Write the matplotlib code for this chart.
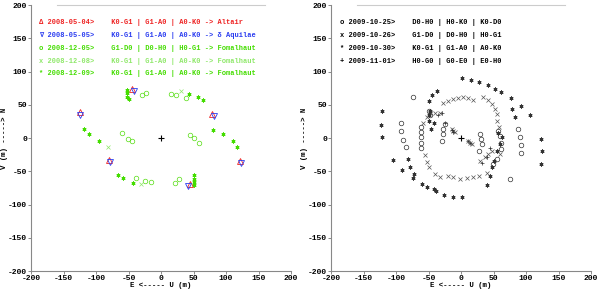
import numpy as np
import matplotlib
matplotlib.use("Agg")
from matplotlib import pyplot as plt

# ---- left panel data: (u, v) in metres ----
alt_u = [-45, -124, 79, 122, -80, 44]
alt_v = [74, 39, 36, -35, -33, -69]
aql_u = [-42, -124, 81, 123, -79, 42]
aql_v = [71, 35, 33, -38, -36, -72]

fom05_u = [-29, -23, 15, 23, 38, -60, -51, -45, 44, 50, 59, -38, -24, -16, 21, 27]
fom05_v = [64, 68, 66, 65, 60, 8, -1, -4, 5, 0, -7, -60, -64, -66, -67, -62]
fom08_u = [30, -81, -31]
fom08_v = [70, -13, -69]
fom09_u = [-52, -53, -52, -50, 43, 57, 65, -118, -111, -96, 80, 95, 110, 117,
           -66, -59, -43, 50, 50, 50, 51]
fom09_v = [72, 67, 62, 58, 66, 61, 57, 14, 6, -5, 12, 6, -5, -13,
           -56, -60, -67, -56, -61, -66, -71]

# ---- right panel data ----
d25_u = [-74, -92, -92, -90, -85, 87, 91, 93, 93, 75,
         -62, -62, -62, -62, -62, -49, -48, -25, -28, -28, -29,
         29, 30, 32, 28, 57, 60, 61, 62, 55, 49]
d25_v = [61, 22, 10, -3, -14, 13, 2, -10, -22, -61,
         17, 9, 1, -7, -15, 40, 34, 21, 13, 6, -4,
         6, -2, -9, -19, 11, 3, -7, -17, -32, -39]
d26_u = [-28, -20, -12, -5, 3, 11, 19, 34, 42, 47, 52, 55, 56, 58, 60,
         40, 27, 19, 9, -2, -12, -20,
         -59, -53, -47, -40, -32, -55, -53, -50, -40, -33,
         -14, -12, -10, 10, 14, 17, 29, 37, 42, 47]
d26_v = [53, 56, 58, 60, 61, 60, 57, 62, 57, 51, 44, 36, 26, 16, -24,
         -52, -57, -59, -60, -61, -59, -57,
         23, 31, 38, 37, 38, -25, -36, -44, -54, -58,
         14, 11, 9, -5, -7, -9, -34, -29, -24, -19]
d30_u = [1, 15, 28, 41, 53, 62, 77, 79, 83, 93, 106, 123, 125, 123,
         -121, -123, -121, -104, -82, -91, -78, -74, -72,
         -60, -52, -41, -39, -26, -13, 1,
         -49, -44, -37, -48, -49, -50, -46, -42,
         57, 63, 60, 55, 50, 47, 45, 40]
d30_v = [90, 88, 85, 80, 74, 69, 60, 44, 31, 48, 34, -2, -20, -39,
         40, 20, 2, -33, -31, -48, -44, -60, -54,
         -69, -73, -76, -80, -86, -88, -89,
         56, 64, 70, 41, 34, 26, 13, 23,
         8, 1, -9, -19, -34, -44, -57, -70]
d01_u = [-35, -30, -25, 32, 40, 45, -14, -12, 11, 14]
d01_v = [34, 37, 22, -37, -29, -15, 12, 9, -5, -8]

ticks = [-200, -150, -100, -50, 0, 50, 100, 150, 200]

left_lines = [
    ("\u0394 2008-05-04>    K0-G1 | G1-A0 | A0-K0 -> Altair", "#ee2222"),
    ("\u2207 2008-05-05>    K0-G1 | G1-A0 | A0-K0 -> \u03b4 Aquilae", "#2a3cf0"),
    ("o 2008-12-05>    G1-D0 | D0-H0 | H0-G1 -> Fomalhaut", "#44dd00"),
    ("x 2008-12-08>    K0-G1 | G1-A0 | A0-K0 -> Fomalhaut", "#8fe86a"),
    ("* 2008-12-09>    K0-G1 | G1-A0 | A0-K0 -> Fomalhaut", "#44dd00"),
]
right_lines = [
    "o 2009-10-25>    D0-H0 | H0-K0 | K0-D0",
    "x 2009-10-26>    G1-D0 | D0-H0 | H0-G1",
    "* 2009-10-30>    K0-G1 | G1-A0 | A0-K0",
    "+ 2009-11-01>    H0-G0 | G0-E0 | E0-H0",
]

mono = ["Liberation Mono", "DejaVu Sans Mono"]
ast = (6, 2, 0)

fig = plt.figure(figsize=(6.0, 2.91), dpi=100)
ax1 = fig.add_axes([0.0517, 0.0687, 0.4333, 0.914])
ax2 = fig.add_axes([0.5517, 0.0687, 0.4333, 0.914])

for ax in (ax1, ax2):
    ax.set_xlim(-200, 200)
    ax.set_ylim(-200, 200)
    ax.set_xticks(ticks)
    ax.set_yticks(ticks)
    ax.set_xticklabels([str(t) for t in ticks], family=mono, fontsize=5.8, fontweight="bold")
    ax.set_yticklabels([str(t) for t in ticks], family=mono, fontsize=5.8, fontweight="bold")
    ax.tick_params(length=2, width=0.6, color="#777777", pad=1)
    ax.spines["top"].set_visible(False)
    ax.spines["right"].set_visible(False)
    ax.spines["left"].set_color("#888888")
    ax.spines["bottom"].set_color("#888888")
    ax.axhline(200, xmin=0.1, xmax=0.9, color="#cccccc", lw=0.8, clip_on=False)
    ax.set_xlabel("E <----- U (m)", family=mono, fontsize=5.3, fontweight="bold", labelpad=0)
    ax.set_ylabel("V (m) -----> N", family=mono, fontsize=5.3, fontweight="bold")
    ax.yaxis.set_label_coords(-0.088, 0.5)
    ax.plot([0], [0], "+", color="black", ms=5, mew=0.8)

# left panel
ax1.plot(alt_u, alt_v, "^", mfc="none", mec="#ee2222", ms=4, mew=0.6, ls="none")
ax1.plot(aql_u, aql_v, "v", mfc="none", mec="#2a3cf0", ms=4, mew=0.6, ls="none")
ax1.plot(fom05_u, fom05_v, "o", mfc="none", mec="#55dd11", ms=3.3, mew=0.5, ls="none")
ax1.plot(fom08_u, fom08_v, "x", color="#8fe86a", ms=2.8, mew=0.5, ls="none")
ax1.plot(fom09_u, fom09_v, marker=ast, color="#44dd00", ms=2.8, mew=0.7, ls="none")

for i, (s, c) in enumerate(left_lines):
    ax1.text(-188, 174 - i * 19.4, s, color=c, family=mono, fontsize=5.0,
             fontweight="bold", va="center", ha="left")

# right panel
gray = "#333333"
ax2.plot(d25_u, d25_v, "o", mfc="none", mec=gray, ms=3.3, mew=0.5, ls="none")
ax2.plot(d26_u, d26_v, "x", color="#555555", ms=2.8, mew=0.5, ls="none")
ax2.plot(d30_u, d30_v, marker=ast, color=gray, ms=2.8, mew=0.7, ls="none")
ax2.plot(d01_u, d01_v, "+", color=gray, ms=3, mew=0.5, ls="none")

for i, s in enumerate(right_lines):
    ax2.text(-186, 174 - i * 19.4, s, color="black", family=mono, fontsize=5.0,
             fontweight="bold", va="center", ha="left")

fig.savefig("out.png", dpi=100)
